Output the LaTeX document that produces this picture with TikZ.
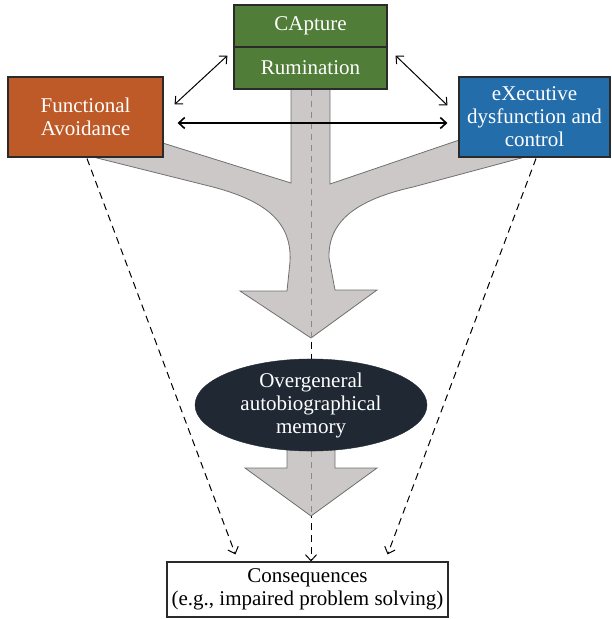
\documentclass[tikz,border=0pt]{standalone}
\usepackage{fontspec}
\setmainfont{Liberation Serif}
\usetikzlibrary{arrows.meta,calc,shapes.geometric}
\definecolor{capgreen}{HTML}{507D37}
\definecolor{favorange}{HTML}{BE5A28}
\definecolor{exblue}{HTML}{236EAA}
\definecolor{ogmnavy}{HTML}{1F2833}
\definecolor{flowgray}{HTML}{CCC8C8}
\definecolor{flowedge}{HTML}{707070}
\definecolor{dashgray}{HTML}{8A8A8A}
\definecolor{boxline}{HTML}{2A2A2A}
\pgfdeclarelayer{bgzero}
\pgfdeclarelayer{bgone}
\pgfsetlayers{bgzero,bgone,main}
\begin{document}
\begin{tikzpicture}[x=1pt,y=-1pt,
  every node/.style={font=\fontsize{21}{23}\selectfont, align=center, inner sep=0pt},
  tbox/.style={draw=boxline, line width=1.1pt, text=white},
  gflow/.style={fill=flowgray, draw=flowedge, line width=0.8pt},
  barb/.style={Straight Barb[length=6pt,width=11pt]},
  lnk/.style={draw=black, line width=1pt, {Straight Barb[length=6pt,width=11pt]}-{Straight Barb[length=6pt,width=11pt]}},
  dlink/.style={draw=black, line width=1pt, dash pattern=on 7pt off 5pt, -{Straight Barb[length=6pt,width=11pt]}},
  gdash/.style={draw=dashgray, line width=1pt, dash pattern=on 6pt off 5pt}
]
\useasboundingbox (0,0) rectangle (611,619);

% nodes
\node[tbox, fill=capgreen, minimum width=153pt, minimum height=42pt] (cap) at (310.5,26) {CApture};
\node[tbox, fill=capgreen, minimum width=153pt, minimum height=42pt] (rum) at (310.5,68) {Rumination};
\node[tbox, fill=favorange, minimum width=155pt, minimum height=80pt] (fa) at (85.5,117) {Functional\\Avoidance};
\node[tbox, fill=exblue, minimum width=151pt, minimum height=80pt] (ex) at (534.5,117) {eXecutive\\dysfunction and\\control};
\node[ellipse, fill=ogmnavy, draw=ogmnavy, text=white, minimum width=232pt, minimum height=76pt] (ogm) at (311,405) {Overgeneral\\autobiographical\\memory};
\node[draw=boxline, line width=1.1pt, text=black, fill=white, minimum width=281pt, minimum height=55pt] (cons) at (307.5,589.5) {Consequences\\(e.g., impaired problem solving)};

\coordinate (top1) at (ogm.north |- rum.south);
\coordinate (tip1) at (311,338);
\coordinate (tip2) at (311,516);
\coordinate (cend) at (cons.north -| ogm.south);

% black dashed centre line (under the gray flows)
\begin{pgfonlayer}{bgzero}
\draw[draw=black, line width=1pt, dash pattern=on 7pt off 5pt] (top1) -- (ogm.north);
\draw[dlink] (ogm.south) -- (cend);
\end{pgfonlayer}

% gray flow shapes
\begin{pgfonlayer}{bgone}
\draw[gflow] (291,80) -- (291,183) -- (60,111) -- (60,149) -- (93,157) -- (213,187)
  .. controls (270,202) and (292,225) .. (290,262) -- (287,291) -- (240,291) -- (tip1)
  -- (377,290) -- (335,290) -- (329,258)
  .. controls (328,222) and (355,200) .. (413,187) -- (525,157) -- (565,146) -- (565,104)
  -- (330,184) -- (330,80) -- cycle;
\draw[gflow] (287,436) -- (287,468) -- (245,468) -- (tip2) -- (377,468) -- (335,468) -- (335,436) -- cycle;
\draw[gdash] (top1) -- (tip1);
\draw[gdash] (ogm.south) -- (tip2);
\end{pgfonlayer}

% solid double arrows
\draw[lnk] ($(cap.south west)+(-6,8)$) -- ($(fa.north east)+(11,28)$);
\draw[lnk] ($(cap.south east)+(8,8)$) -- ($(ex.north west)+(-11,29)$);
\draw[lnk, line width=1.6pt] ($(fa.east)+(14,6)$) -- ($(ex.west)+(-11,6)$);

% dashed arrows to consequences
\draw[dlink] ($(fa.south)+(1.5,1)$) -- ($(cons.north west)+(69,-7)$);
\draw[dlink] ($(ex.south)+(1.5,1)$) -- ($(cons.north east)+(-61,-7)$);
\end{tikzpicture}
\end{document}
